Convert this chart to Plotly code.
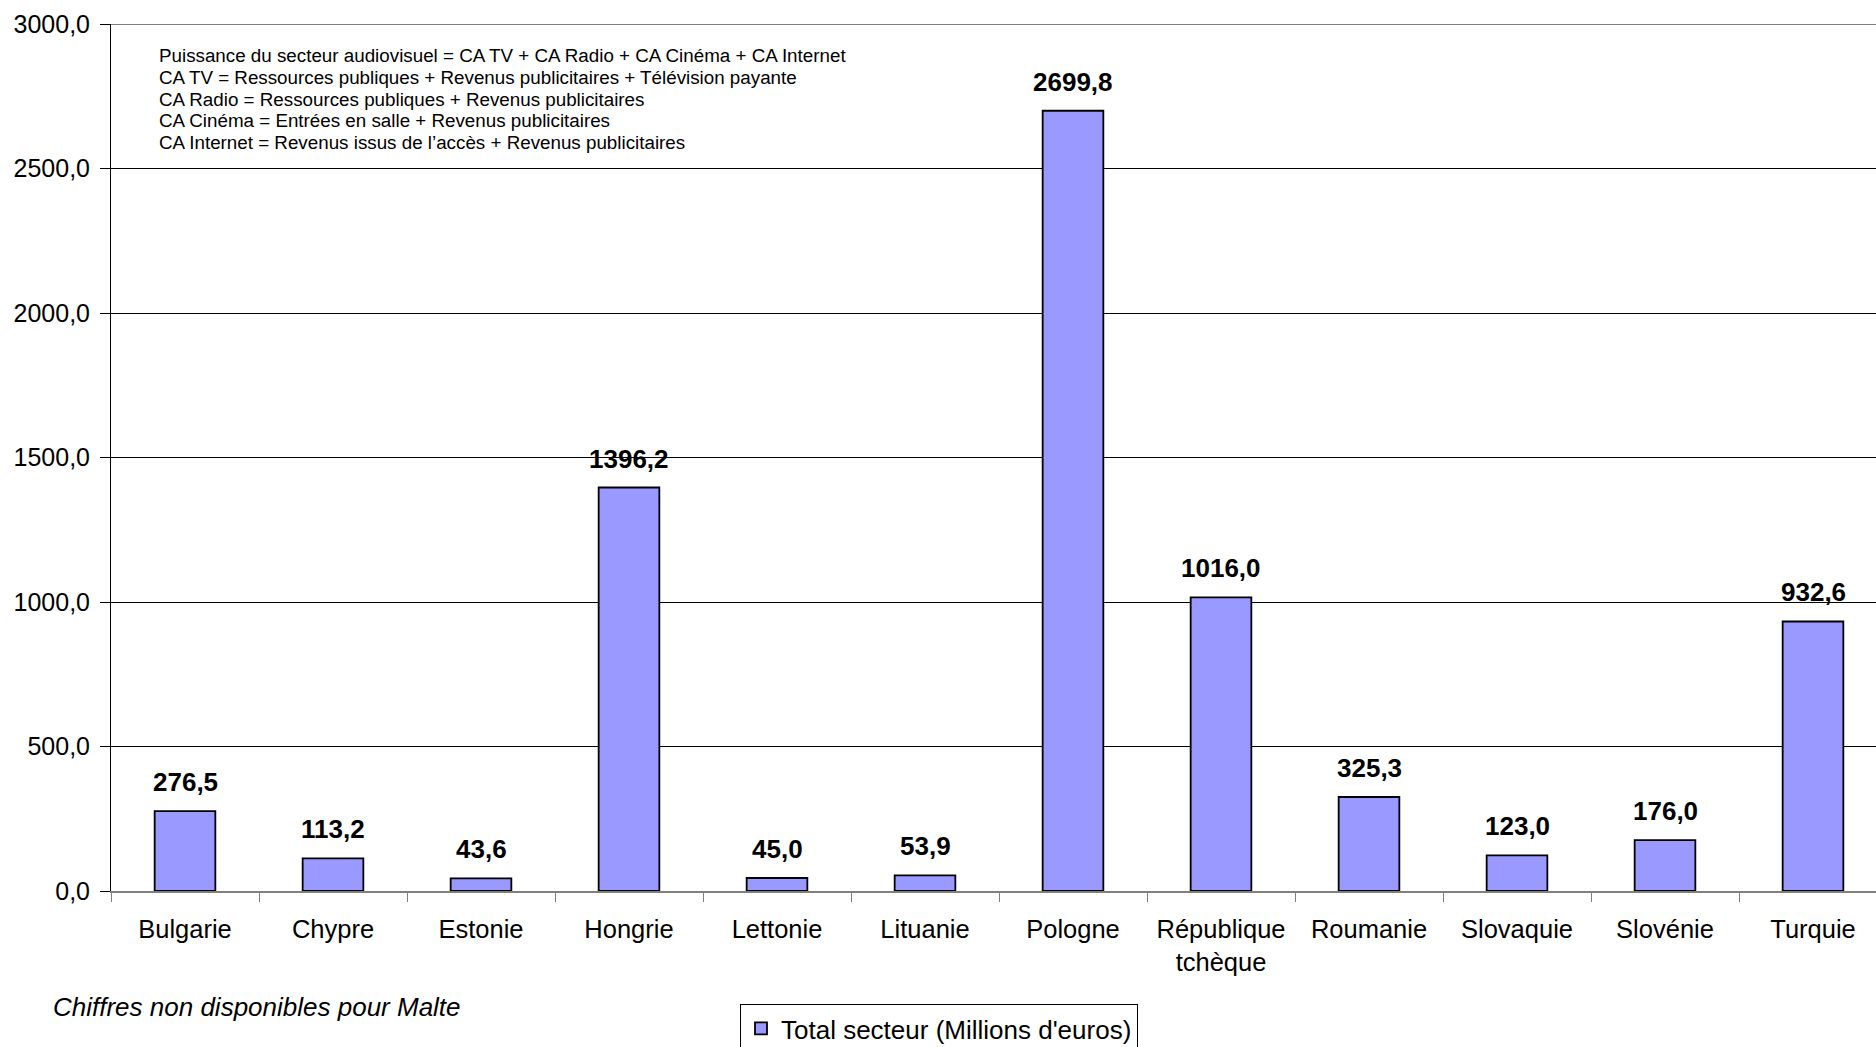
import plotly.graph_objects as go

categories = ["Bulgarie", "Chypre", "Estonie", "Hongrie", "Lettonie", "Lituanie",
              "Pologne", "République<br>tchèque", "Roumanie", "Slovaquie", "Slovénie", "Turquie"]
values = [276.5, 113.2, 43.6, 1396.2, 45.0, 53.9, 2699.8, 1016.0, 325.3, 123.0, 176.0, 932.6]
series_name = "Total secteur (Millions d'euros)"
y_ticks = [0, 500, 1000, 1500, 2000, 2500, 3000]
note_lines = [
    "Puissance du secteur audiovisuel = CA TV + CA Radio + CA Cinéma + CA Internet",
    "CA TV = Ressources publiques + Revenus publicitaires + Télévision payante",
    "CA Radio = Ressources publiques + Revenus publicitaires",
    "CA Cinéma = Entrées en salle + Revenus publicitaires",
    "CA Internet = Revenus issus de l\u2019accès + Revenus publicitaires",
]
footnote = "Chiffres non disponibles pour Malte"

FONT = "Liberation Sans, Arial, sans-serif"
W, H = 1876, 1047
ML, MR, MT, MB = 111, 0, 24, 156
PW, PH = W - ML - MR, H - MT - MB
CAT_PX = 148  # pixel width of one category slot

def px_x(p):
    return (p - ML) / PW

def px_y(p):
    return (H - MB - p) / PH

fig = go.Figure()
fig.add_trace(go.Bar(
    x=categories, y=values, name=series_name,
    marker=dict(color="#9999FF", line=dict(color="#000000", width=1.8)),
    width=0.41, showlegend=True,
))

annotations = []
for c, v in zip(categories, values):
    annotations.append(dict(
        x=c, y=v, xref="x", yref="y", text=f"<b>{v:.1f}".replace(".", ",") + "</b>",
        showarrow=False, yanchor="bottom", yshift=12,
        font=dict(family=FONT, size=26, color="#000000"),
    ))

for i, line in enumerate(note_lines):
    annotations.append(dict(
        x=px_x(157), y=px_y(56 + i * 21.6), xref="paper", yref="paper",
        xanchor="left", yanchor="middle", align="left", showarrow=False,
        text=line,
        font=dict(family=FONT, size=18.8, color="#000000"),
    ))
annotations.append(dict(
    x=px_x(51), y=px_y(1007), xref="paper", yref="paper",
    xanchor="left", yanchor="middle", showarrow=False,
    text="<i>" + footnote + "</i>",
    font=dict(family=FONT, size=26, color="#000000"),
))

shapes = [
    dict(type="rect", xref="paper", yref="paper",
         x0=px_x(116), x1=px_x(968), y0=px_y(178), y1=px_y(35),
         fillcolor="#FFFFFF", line=dict(width=0), layer="between"),
    dict(type="line", xref="paper", yref="y", x0=0, x1=1, y0=3000, y1=3000,
         line=dict(color="#808080", width=2), layer="between"),
]

fig.update_layout(
    width=W, height=H,
    margin=dict(l=ML, r=MR, t=MT, b=MB, autoexpand=False),
    paper_bgcolor="#FFFFFF", plot_bgcolor="#FFFFFF",
    separators=", ",
    font=dict(family=FONT, size=25, color="#000000"),
    annotations=annotations, shapes=shapes,
    legend=dict(
        x=px_x(939), y=px_y(1004), xanchor="center", yanchor="top",
        orientation="h", bordercolor="#000000", borderwidth=1,
        bgcolor="#FFFFFF", font=dict(family=FONT, size=26, color="#000000"),
        itemwidth=30, tracegroupgap=0,
    ),
    xaxis=dict(
        showgrid=False, showline=True, linecolor="#808080", linewidth=2,
        ticks="outside", tickson="boundaries", ticklen=9, tickcolor="#808080", tickwidth=1,
        tickfont=dict(family=FONT, size=25.5, color="#000000"),
        ticklabelstandoff=14,
        range=[-0.5, -0.5 + PW / CAT_PX],
    ),
    yaxis=dict(
        range=[0, 3000], tickvals=y_ticks, tickformat=".1f",
        showgrid=True, gridcolor="#000000", gridwidth=1,
        showline=True, linecolor="#000000", linewidth=1,
        ticks="outside", ticklen=10, tickcolor="#000000",
        tickfont=dict(family=FONT, size=25, color="#000000"),
        ticklabelstandoff=5, zeroline=False,
    ),
)

fig.write_html("out.html")
